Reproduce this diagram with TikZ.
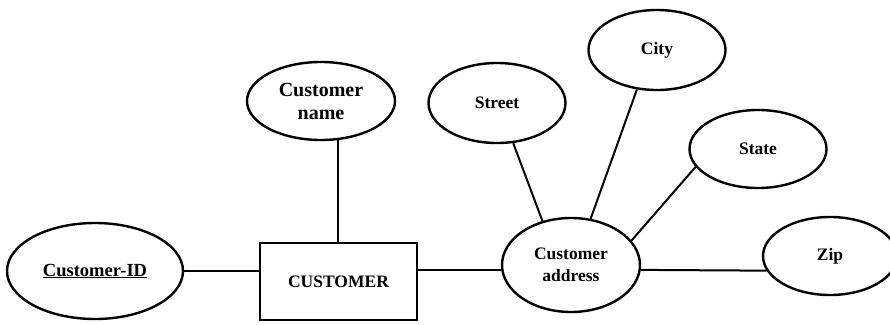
\documentclass[tikz,border=0pt]{standalone}
\usepackage{fontspec}
\setmainfont{Liberation Serif}
\usetikzlibrary{shapes.geometric}
\begin{document}
\begin{tikzpicture}[x=1pt,y=-1pt,
  attr/.style={ellipse,draw,line width=2.4pt,inner sep=0pt,align=center,
    font=\fontsize{17.5}{22}\selectfont\bfseries},
  ent/.style={rectangle,draw,line width=2.4pt,inner sep=0pt,
    font=\fontsize{17.5}{22}\selectfont\bfseries},
  link/.style={line width=2pt}]
\useasboundingbox (0,0) rectangle (890,324);
\clip (0,0) rectangle (890,324);
\node[attr,minimum width=176pt,minimum height=96pt,font=\fontsize{18.5}{22}\selectfont\bfseries] (cid) at (95,271) {\underline{Customer-ID}};
\node[ent,minimum width=157pt,minimum height=77pt] (cust) at (338.5,281.5) {CUSTOMER};
\node[attr,minimum width=148pt,minimum height=78pt,font=\fontsize{20}{23}\selectfont\bfseries] (cname) at (321,101) {Customer\\name};
\node[attr,minimum width=138pt,minimum height=94pt] (ca) at (571,265) {Customer\\address};
\node[attr,minimum width=137pt,minimum height=80pt] (street) at (497,103) {Street};
\node[attr,minimum width=137pt,minimum height=80pt] (city) at (657,50) {City};
\node[attr,minimum width=137pt,minimum height=78pt] (state) at (758,149) {State};
\node[attr,minimum width=134pt,minimum height=78pt] (zip) at (830,256) {Zip};
\draw[link] (cid.east) -- (cust.west |- cid.east);
\draw[link] (cname.-67) -- (cname.-67 |- cust.north);
\draw[link] (cust.east |- ca.184) -- (ca.184);
\draw[link] (ca.-4) -- (zip.193);
\draw[link] (street.-68) -- (ca.123);
\draw[link] (city.-117) -- (ca.67);
\draw[link] (state.196) -- (ca.22);
\end{tikzpicture}
\end{document}
